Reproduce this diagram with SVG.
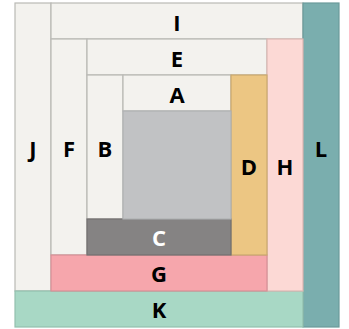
<svg xmlns="http://www.w3.org/2000/svg" width="349" height="329" viewBox="0 0 349 329">
<style>
rect{stroke-width:1.2}
.lt{fill:#f3f2ee;stroke:#bab9b5}
text{font-family:"Open Sans","Liberation Sans",sans-serif;font-weight:bold;font-size:22px;text-anchor:middle;fill:#000}
</style>
<rect width="349" height="329" fill="#ffffff"/>
<g id="J"><rect class="lt" x="15" y="3" width="36" height="288"/><text x="33" y="157">J</text></g>
<g id="I"><rect class="lt" x="51" y="3" width="252" height="36"/><text x="177" y="30.5">I</text></g>
<g id="L"><rect x="303" y="3" width="36" height="324" fill="#7aaeae" stroke="#6a9a9a"/><text x="321" y="157">L</text></g>
<g id="K"><rect x="15" y="291" width="288" height="36" fill="#a8d8c5" stroke="#93c0ae"/><text x="159" y="317.5">K</text></g>
<g id="F"><rect class="lt" x="51" y="39" width="36" height="216"/><text x="69" y="157">F</text></g>
<g id="E"><rect class="lt" x="87" y="39" width="180" height="36"/><text x="177" y="66.5">E</text></g>
<g id="H"><rect x="267" y="39" width="36" height="252" fill="#fcd9d5" stroke="#dcb8b4"/><text x="285" y="175">H</text></g>
<g id="G"><rect x="51" y="255" width="216" height="36" fill="#f6a6ac" stroke="#d89096"/><text x="159" y="282">G</text></g>
<g id="B"><rect class="lt" x="87" y="75" width="36" height="144"/><text x="105" y="157">B</text></g>
<g id="A"><rect class="lt" x="123" y="75" width="108" height="36"/><text x="177" y="102.5">A</text></g>
<g id="D"><rect x="231" y="75" width="36" height="180" fill="#ecc683" stroke="#caa86e"/><text x="249" y="175">D</text></g>
<g id="C"><rect x="87" y="219" width="144" height="36" fill="#858383" stroke="#727070"/><text x="159" y="246" style="fill:#ffffff">C</text></g>
<g id="center"><rect x="123" y="111" width="108" height="108" fill="#c1c2c4" stroke="#b0b1b3"/></g>
</svg>
